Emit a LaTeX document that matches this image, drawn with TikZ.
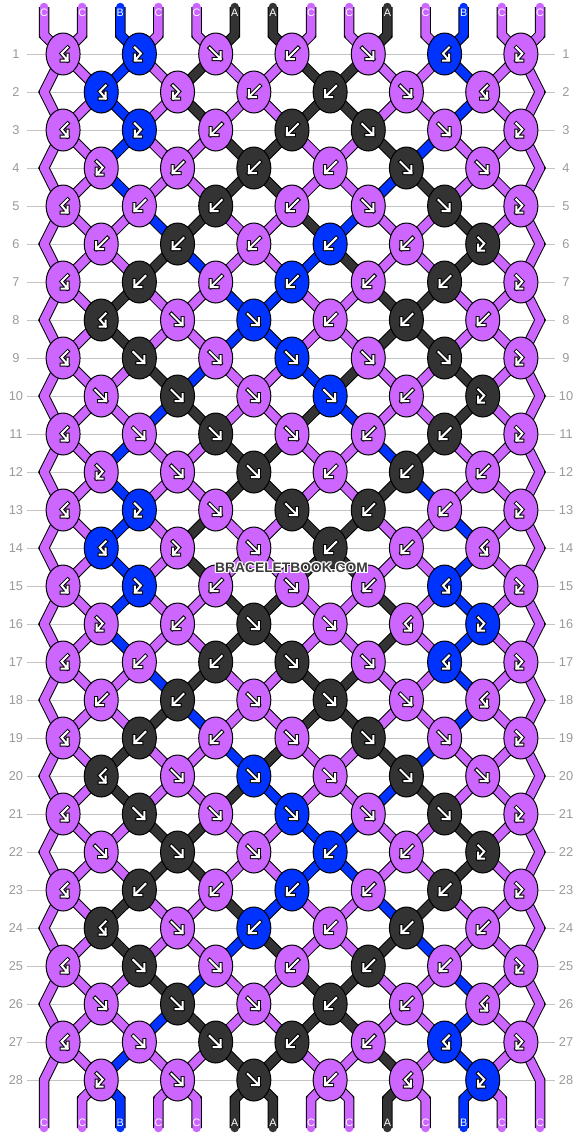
\documentclass[tikz,border=0pt]{standalone}
\usepackage{fontspec}
\setmainfont{Liberation Sans}
\usetikzlibrary{shapes.geometric}
\definecolor{colC}{HTML}{CC66FF}
\definecolor{colB}{HTML}{0033FF}
\definecolor{colA}{HTML}{333333}
\definecolor{gridgray}{HTML}{C4C4C4}
\definecolor{labgray}{HTML}{9A9A9A}
\definecolor{wmgray}{HTML}{3A3A3A}
\pgfdeclarelayer{grid}
\pgfdeclarelayer{strings}
\pgfsetlayers{grid,strings,main}
\newcommand\ksymf{%
  \draw[symo] (-6,-6) -- (5,5) (-2,5) -- (5,5) -- (5,-2);
  \draw[symi] (-6,-6) -- (5,5) (-2,5) -- (5,5) -- (5,-2);}
\newcommand\ksymb{%
  \draw[symo] (6,-6) -- (-5,5) (2,5) -- (-5,5) -- (-5,-2);
  \draw[symi] (6,-6) -- (-5,5) (2,5) -- (-5,5) -- (-5,-2);}
\newcommand\ksymR{%
  \draw[symo] (-4.5,-6.5) -- (1.5,-0.5) -- (-4.5,6.5) (-4.5,0.5) -- (-4.5,6.5) -- (1.5,6.5);
  \draw[symi] (-4.5,-6.5) -- (1.5,-0.5) -- (-4.5,6.5) (-4.5,0.5) -- (-4.5,6.5) -- (1.5,6.5);}
\newcommand\ksymL{%
  \draw[symo] (4.5,-6.5) -- (-1.5,-0.5) -- (4.5,6.5) (4.5,0.5) -- (4.5,6.5) -- (-1.5,6.5);
  \draw[symi] (4.5,-6.5) -- (-1.5,-0.5) -- (4.5,6.5) (4.5,0.5) -- (4.5,6.5) -- (-1.5,6.5);}
\tikzset{
  knot/.style={ellipse, draw=black, line width=0.5pt, minimum width=17pt, minimum height=21pt, inner sep=0pt, outer sep=0pt},
  strand/.style={line width=4.25pt, line cap=round, line join=round, preaction={draw=black, line width=5.25pt}},
  symo/.style={draw=black, line width=2pt, line cap=rect, line join=miter},
  symi/.style={draw=white, line width=1pt, line cap=rect, line join=miter},
  gridline/.style={draw=gridgray, line width=0.5pt},
  rowlab/.style={text=labgray, font=\fontsize{6.4}{7}\selectfont, inner sep=0pt},
  strlab/.style={text=white, font=\fontsize{5.4}{6}\selectfont, inner sep=0pt},
  wmhalo/.style={text=white, font=\fontsize{6.9}{8}\selectfont\bfseries, inner sep=0pt},
  wmtext/.style={text=wmgray, font=\fontsize{6.9}{8}\selectfont\bfseries, inner sep=0pt},
}
\begin{document}
\begin{tikzpicture}[x=0.5pt,y=-0.5pt]
\useasboundingbox (0,0) rectangle (582,1136);
\begin{pgfonlayer}{grid}
\fill[white] (0,0) rectangle (582,1136);
\foreach \r in {1,...,28}{
  \pgfmathsetmacro\ky{54+38*(\r-1)}
  \draw[gridline] (27,\ky) -- (555,\ky);
}
\end{pgfonlayer}
% row labels
\foreach \r in {1,...,28}{
  \pgfmathsetmacro\ky{54+38*(\r-1)}
  \node[rowlab] (ll-\r) at (16,\ky) {\r};
  \node[rowlab] (lr-\r) at (566,\ky) {\r};
}
% knots
\foreach \r/\lst in {
 1/{L/C,R/B,f/C,b/C,f/C,L/B,R/C},
 2/{L/B,R/C,b/C,b/A,f/C,L/C},
 3/{L/C,R/B,b/C,b/A,f/A,f/C,R/C},
 4/{R/C,b/C,b/A,b/C,f/A,f/C},
 5/{L/C,b/C,b/A,b/C,f/C,f/A,R/C},
 6/{b/C,b/A,b/C,b/B,b/C,R/A},
 7/{L/C,b/A,b/C,b/B,b/C,b/A,R/C},
 8/{L/A,f/C,f/B,b/C,b/A,b/C},
 9/{L/C,f/A,f/C,f/B,f/C,f/A,R/C},
 10/{f/C,f/A,f/C,f/B,b/C,R/A},
 11/{L/C,f/C,f/A,f/C,b/C,b/A,R/C},
 12/{R/C,f/C,f/A,b/C,b/A,b/C},
 13/{L/C,R/B,f/C,f/A,b/A,b/C,R/C},
 14/{L/B,R/C,f/C,b/A,b/C,L/C},
 15/{L/C,R/B,b/C,f/C,b/C,L/B,R/C},
 16/{R/C,b/C,f/A,f/C,L/C,R/B},
 17/{L/C,b/C,b/A,f/A,f/C,L/B,R/C},
 18/{b/C,b/A,f/C,f/A,f/C,L/C},
 19/{L/C,b/A,b/C,f/C,f/A,f/C,R/C},
 20/{L/A,f/C,f/B,f/C,f/A,f/C},
 21/{L/C,f/A,f/C,f/B,f/C,f/A,R/C},
 22/{f/C,f/A,f/C,b/B,b/C,R/A},
 23/{L/C,b/A,b/C,b/B,b/C,b/A,R/C},
 24/{L/A,f/C,b/B,b/C,b/A,b/C},
 25/{L/C,f/A,f/C,b/C,b/A,b/C,R/C},
 26/{f/C,f/A,f/C,b/A,b/C,L/C},
 27/{L/C,f/C,f/A,b/A,b/C,L/B,R/C},
 28/{R/C,f/C,f/A,b/C,L/C,R/B}}{
  \pgfmathsetmacro\ky{54+38*(\r-1)}
  \ifodd\r\relax
    \def\xo{63.075}\def\po{-1}%
  \else
    \def\xo{101.225}\def\po{0}%
    \coordinate (p-\r-1) at (44,\ky);
    \coordinate (p-\r-14) at (540,\ky);
  \fi
  \foreach \t/\c [count=\k] in \lst {
    \pgfmathsetmacro\kx{\xo+76.3*(\k-1)}
    \pgfmathtruncatemacro\pa{2*\k+\po}
    \pgfmathtruncatemacro\pb{\pa+1}
    \node[knot, fill=col\c, name=k-\r-\k, alias=p-\r-\pa, alias=p-\r-\pb] at (\kx,\ky) {};
    \begin{scope}[shift={(\kx,\ky)}]
      \csname ksym\t\endcsname
    \end{scope}
  }
}
% strings
\begin{pgfonlayer}{strings}
\draw[strand, color=colC] (44,7) -- (44,35) \foreach \r in {1,...,28}{ -- (p-\r-1.center)} -- (44,1128);
\draw[strand, color=colC] (540,7) -- (540,35) \foreach \r in {1,...,28}{ -- (p-\r-14.center)} -- (540,1128);
\foreach \r/\st in {
 0/{C,C,B,C,C,A,A,C,C,A,C,B,C,C},
 1/{C,C,B,C,A,C,C,A,A,C,C,B,C,C},
 2/{C,C,B,C,A,C,C,A,A,C,C,B,C,C},
 3/{C,C,B,C,C,A,A,C,C,A,B,C,C,C},
 4/{C,C,B,C,C,A,A,C,C,B,A,C,C,C},
 5/{C,C,C,B,A,C,C,A,B,C,C,A,C,C},
 6/{C,C,C,A,B,C,C,B,A,C,C,A,C,C},
 7/{C,C,A,C,C,B,B,C,C,A,A,C,C,C},
 8/{C,C,A,C,C,B,B,C,C,A,A,C,C,C},
 9/{C,C,C,A,B,C,C,B,A,C,C,A,C,C},
 10/{C,C,C,B,A,C,C,A,B,C,C,A,C,C},
 11/{C,C,B,C,C,A,A,C,C,B,A,C,C,C},
 12/{C,C,B,C,C,A,A,C,C,A,B,C,C,C},
 13/{C,C,B,C,A,C,C,A,A,C,C,B,C,C},
 14/{C,C,B,C,A,C,C,A,A,C,C,B,C,C},
 15/{C,C,B,C,C,A,A,C,C,A,C,B,C,C},
 16/{C,C,B,C,C,A,A,C,C,A,C,B,C,C},
 17/{C,C,C,B,A,C,C,A,A,C,C,B,C,C},
 18/{C,C,C,A,B,C,C,A,A,C,C,B,C,C},
 19/{C,C,A,C,C,B,A,C,C,A,B,C,C,C},
 20/{C,C,A,C,C,A,B,C,C,B,A,C,C,C},
 21/{C,C,C,A,A,C,C,B,B,C,C,A,C,C},
 22/{C,C,C,A,A,C,C,B,B,C,C,A,C,C},
 23/{C,C,A,C,C,A,B,C,C,B,A,C,C,C},
 24/{C,C,A,C,C,B,A,C,C,A,B,C,C,C},
 25/{C,C,C,A,B,C,C,A,A,C,C,B,C,C},
 26/{C,C,C,B,A,C,C,A,A,C,C,B,C,C},
 27/{C,C,B,C,C,A,A,C,C,A,C,B,C,C},
 28/{C,C,B,C,C,A,A,C,C,A,C,B,C,C}}{
  \pgfmathtruncatemacro\rn{\r+1}
  \foreach \c [count=\p] in \st {
    \ifnum\p>1 \ifnum\p<14
      \pgfmathsetmacro\sx{44+38.15*(\p-1)}
      \ifnum\r=0
        \draw[strand, color=col\c] (\sx,7) -- (\sx,35) -- (p-1-\p.center);
      \else\ifnum\r=28
        \draw[strand, color=col\c] (p-28-\p.center) -- (\sx,1099) -- (\sx,1128);
      \else
        \draw[strand, color=col\c] (p-\r-\p.center) -- (p-\rn-\p.center);
      \fi\fi
    \fi\fi
  }
}
\end{pgfonlayer}
% string letters
\foreach \c [count=\p] in {C,C,B,C,C,A,A,C,C,A,C,B,C,C}{
  \pgfmathsetmacro\sx{44+38.15*(\p-1)}
  \node[strlab] (tl-\p) at (\sx,13) {\c};
  \node[strlab] (bl-\p) at (\sx,1123) {\c};
}
% watermark
\foreach \dx/\dy [count=\i] in {-1.2/0,1.2/0,0/-1.2,0/1.2,-1/-1,1/1,-1/1,1/-1}{
  \node[wmhalo] (wmh-\i) at (291.5+\dx,567.5+\dy) {BRACELETBOOK.COM};
}
\node[wmtext] (wm) at (291.5,567.5) {BRACELETBOOK.COM};
\end{tikzpicture}
\end{document}
